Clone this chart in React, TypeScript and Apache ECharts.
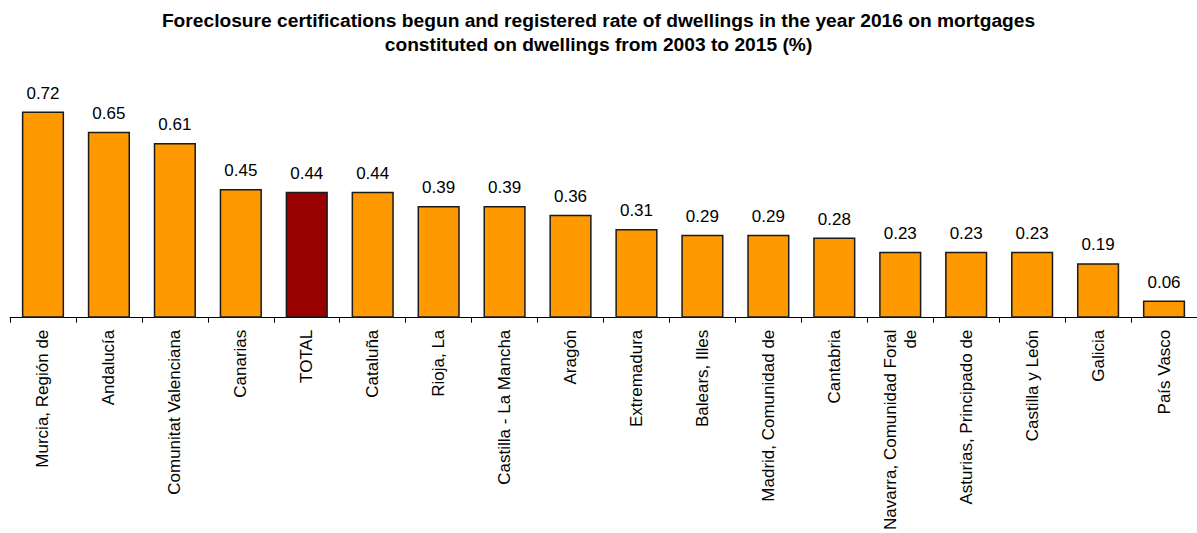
import React, { useEffect, useRef } from "react";
import * as echarts from "echarts";

const categories = [
  "Murcia, Región de",
  "Andalucía",
  "Comunitat Valenciana",
  "Canarias",
  "TOTAL",
  "Cataluña",
  "Rioja, La",
  "Castilla - La Mancha",
  "Aragón",
  "Extremadura",
  "Balears, Illes",
  "Madrid, Comunidad de",
  "Cantabria",
  "Navarra, Comunidad Foral\nde",
  "Asturias, Principado de",
  "Castilla y León",
  "Galicia",
  "País Vasco",
];

const values = [0.72, 0.65, 0.61, 0.45, 0.44, 0.44, 0.39, 0.39, 0.36, 0.31, 0.29, 0.29, 0.28, 0.23, 0.23, 0.23, 0.19, 0.06];

const highlightCategory = "TOTAL";

const titleLines = [
  "Foreclosure certifications begun and registered rate of dwellings in the year 2016 on mortgages",
  "constituted on dwellings from 2003 to 2015 (%)",
];

const FONT = "'Liberation Sans', Arial, sans-serif";

export default function App() {
  const ref = useRef<HTMLDivElement>(null);
  useEffect(() => {
    if (!ref.current) return;
    const chart = echarts.init(ref.current, null, { renderer: "svg" });
    chart.setOption({
      animation: false,
      backgroundColor: "#ffffff",
      title: titleLines.map((t, i) => ({
        text: t,
        left: "center",
        top: 9 + i * 24,
        padding: 0,
        textStyle: {
          fontFamily: FONT,
          fontSize: 19.2,
          fontWeight: "bold",
          color: "#000",
          lineHeight: 22,
        },
      })),
      grid: {
        left: 10,
        width: 1199,
        top: 88.7,
        bottom: 211,
        containLabel: false,
      },
      xAxis: {
        type: "category",
        data: categories,
        boundaryGap: true,
        axisLine: { show: true, lineStyle: { color: "#000", width: 1 } },
        axisTick: { show: true, length: 5, lineStyle: { color: "#000" } },
        axisLabel: {
          rotate: 90,
          interval: 0,
          margin: 12,
          fontFamily: FONT,
          fontSize: 17,
          color: "#000",
          lineHeight: 20,
        },
      },
      yAxis: {
        type: "value",
        min: 0,
        max: 0.8,
        show: false,
        splitLine: { show: false },
      },
      series: [
        {
          type: "bar",
          barWidth: "64%",
          data: categories.map((c, i) => ({
            value: values[i],
            itemStyle: {
              color: c === highlightCategory ? "#990000" : "#FF9900",
            },
          })),
          itemStyle: { borderColor: "#1a1a1a", borderWidth: 1.5 },
          label: {
            show: true,
            position: "top",
            distance: 10,
            fontFamily: FONT,
            fontSize: 17,
            color: "#000",
            formatter: (p: any) => p.value.toFixed(2),
          },
        },
      ],
    });
    return () => chart.dispose();
  }, []);
  return (
    <div
      ref={ref}
      style={{ position: "fixed", left: 0, top: 0, width: 1197, height: 533 }}
    />
  );
}
